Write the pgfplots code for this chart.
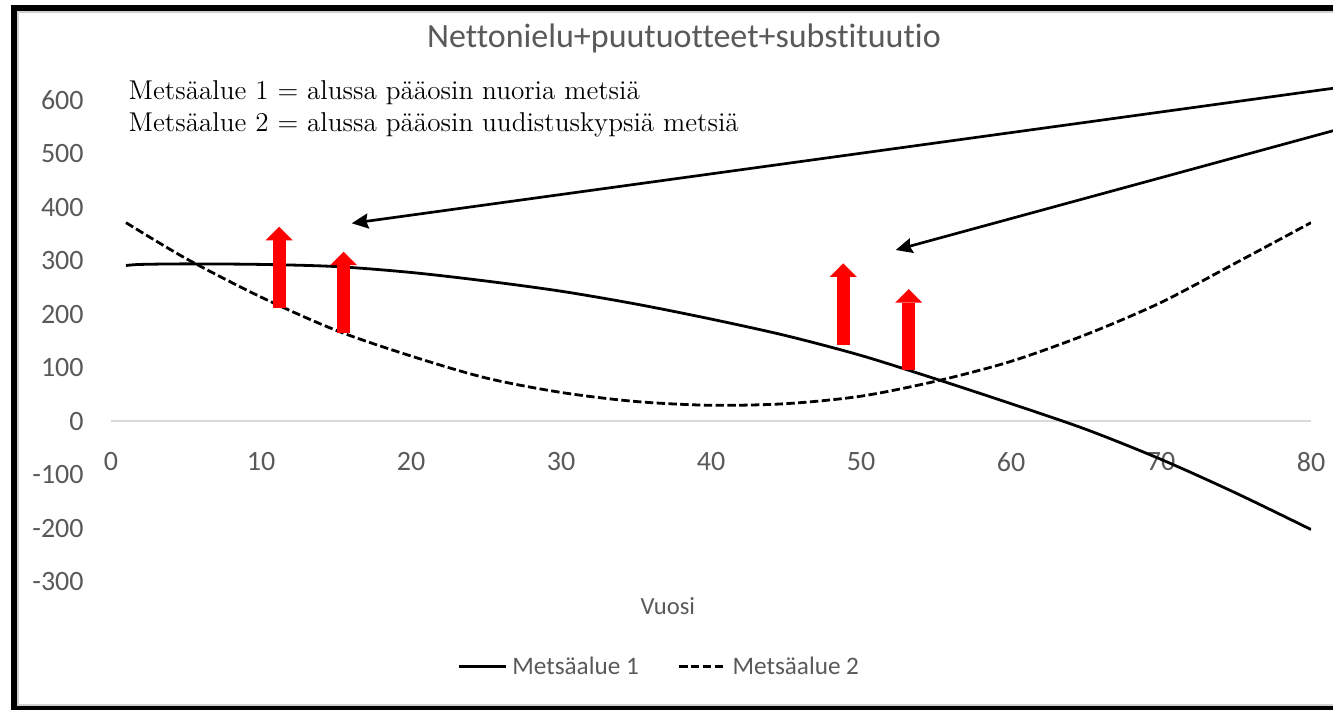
\documentclass[border=0pt]{standalone}
\usepackage{fontspec}
\usepackage{pgfplots}
\pgfplotsset{compat=1.18}
\usetikzlibrary{arrows.meta}
\newfontfamily\calibri{Carlito}[Ligatures=NoCommon]
\definecolor{tickgray}{HTML}{595959}
\definecolor{zerogray}{HTML}{D9D9D9}
\definecolor{framegray}{HTML}{D0D0D0}
\begin{document}
\begin{tikzpicture}
\begin{axis}[
  at={(0,0)}, anchor=south west,
  scale only axis, width=600pt, height=241pt,
  xmin=0, xmax=80, ymin=-300, ymax=600,
  axis x line=middle, axis y line=left,
  axis line style={-},
  x axis line style={draw=zerogray, line width=1pt},
  y axis line style={draw=none},
  major tick length=0pt,
  hide obscured x ticks=false, hide obscured y ticks=false,
  xtick={0,10,...,80}, ytick={-300,-200,...,600},
  /pgf/number format/assume math mode=true,
  tick label style={font=\calibri\fontsize{14}{16}\selectfont, text=tickgray, inner sep=0pt},
  xticklabel style={anchor=north, yshift=-15.2pt},
  yticklabel style={anchor=east, xshift=-13.5pt},
  xlabel={Vuosi},
  xlabel style={at={(axis description cs:0.464,-0.0664)}, anchor=base, inner sep=0pt, font=\calibri\fontsize{12.3}{15}\selectfont, text=tickgray},
  title={Nettonielu+puutuotteet+substituutio},
  title style={at={(axis description cs:0.4775,1.0844)}, anchor=base, inner sep=0pt, font=\calibri\fontsize{17}{19}\selectfont, text=tickgray},
  legend columns=-1,
  legend style={at={(axis description cs:0.2835,-0.176)}, anchor=west, draw=none, fill=none,
    nodes={inner sep=0pt, font=\calibri\fontsize{12.6}{15}\selectfont, text=tickgray},
    /tikz/every odd column/.style={column sep=2.5pt},
    /tikz/every even column/.style={column sep=19.5pt}},
  legend image code/.code={\draw[#1] (0pt,0pt) -- (23.5pt,0pt);},
]
\addplot[black, line width=1.4pt, smooth] coordinates {
(1,291) (2,293) (5,294) (10,293) (15,289) (20,278) (25,262) (30,243) (35,219) (40,191)
(45,160) (50,123) (55,79) (60,33) (65,-15) (70,-71) (75,-134) (80,-202)};
\addlegendentry{Metsäalue 1}
\addplot[black, line width=1.4pt, smooth, dash pattern=on 4.2pt off 1.7pt] coordinates {
(1,371) (5,304) (10,232) (15,170) (20,122) (25,81) (30,54) (35,37) (40,30) (45,33)
(50,47) (55,75) (60,112) (65,162) (70,222) (75,296) (80,371)};
\addlegendentry{Metsäalue 2}
\draw[red, line width=6.5pt, -{Triangle[length=6.75pt,width=13.5pt,line width=0pt]}] (axis cs:11.21,212.1) -- (axis cs:11.21,363.3);
\draw[red, line width=6.5pt, -{Triangle[length=6.75pt,width=13.5pt,line width=0pt]}] (axis cs:15.51,165.4) -- (axis cs:15.51,316.7);
\draw[red, line width=6.5pt, -{Triangle[length=6.75pt,width=13.5pt,line width=0pt]}] (axis cs:48.82,142.5) -- (axis cs:48.82,295.0);
\draw[red, line width=6.5pt, -{Triangle[length=6.75pt,width=13.5pt,line width=0pt]}] (axis cs:53.18,95.8) -- (axis cs:53.18,247.0);
\end{axis}
\begin{scope}[shift={(-55.5pt,291pt)},x=0.5pt,y=-0.5pt]
\useasboundingbox (0,0) rectangle (1333,709);
\draw[line width=3pt] (14.5,8) rectangle (1350,709);
\draw[framegray, line width=1pt] (18.3,12.2) rectangle (1350,705.3);
\node[anchor=base west, inner sep=0pt, font=\fontsize{13.6}{15}\selectfont] at (128.3,99.3) {Metsäalue 1 = alussa pääosin nuoria metsiä};
\node[anchor=base west, inner sep=0pt, font=\fontsize{13.6}{15}\selectfont] at (128.3,131) {Metsäalue 2 = alussa pääosin uudistuskypsiä metsiä};
\draw[line width=1.35pt, -{Stealth[length=8.3pt,width=7.5pt,inset=1pt]}] (1345,86.65) -- (351.7,223.3);
\draw[line width=1.35pt, -{Stealth[length=8.3pt,width=7.5pt,inset=1pt]}] (1345,127.5) -- (895.7,250);
\end{scope}
\end{tikzpicture}
\end{document}
